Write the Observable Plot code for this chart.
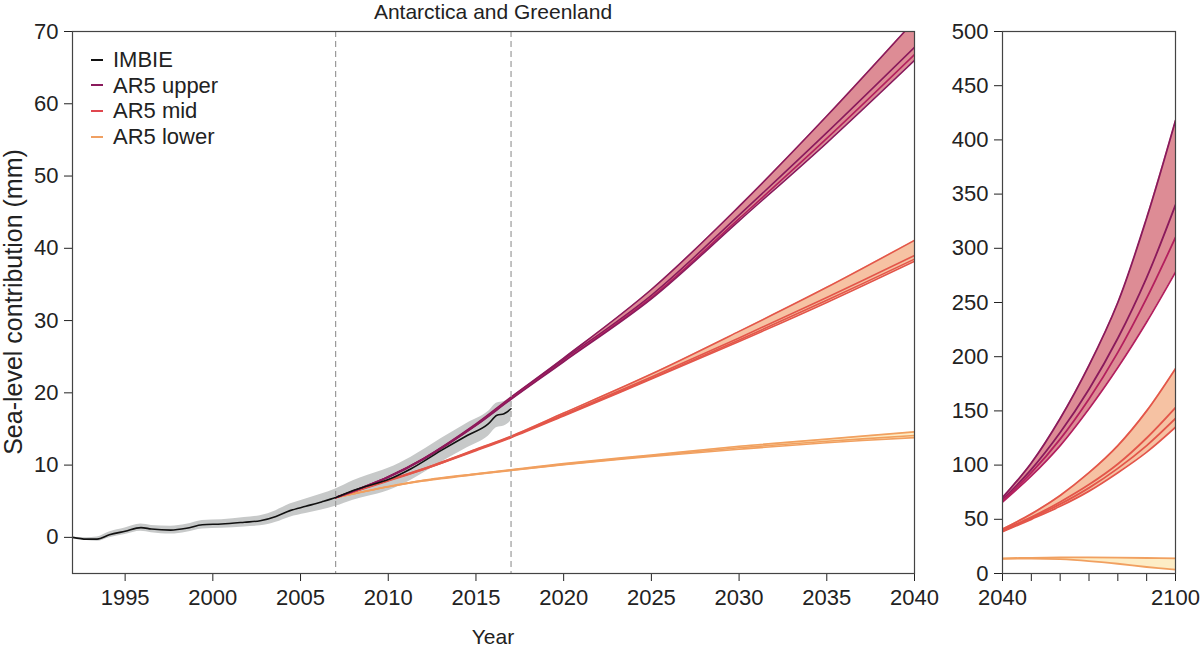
<!DOCTYPE html>
<html>
<head>
<meta charset="utf-8">
<script src="https://cdn.jsdelivr.net/npm/d3@7"></script>
<script src="https://cdn.jsdelivr.net/npm/@observablehq/plot@0.6"></script>
<style>
  html, body { margin: 0; padding: 0; background: #fff; }
  body { width: 1200px; height: 648px; position: relative; overflow: hidden; font-family: "Liberation Sans", Arial, sans-serif; color: #222; }
  .abs { position: absolute; }
  #title { left: 72px; width: 842px; top: 0px; text-align: center; font-size: 21px; line-height: 23px; }
  #xlabel { left: 72px; width: 842px; top: 625px; text-align: center; font-size: 21px; line-height: 23px; }
  #ylabel { left: 13px; top: 302px; transform: translate(-50%, -50%) rotate(-90deg); white-space: nowrap; font-size: 25px; line-height: 26px; }
  #legend { left: 91px; top: 47px; font-size: 22px; line-height: 25.6px; }
  #legend div { display: flex; align-items: center; height: 25.6px; }
  #legend span.sw { display: inline-block; width: 12px; height: 2px; margin-right: 10px; }
  svg { font-family: "Liberation Sans", Arial, sans-serif; }
</style>
</head>
<body>
<div id="main" class="abs" style="left:0;top:0"></div>
<div id="side" class="abs" style="left:940px;top:0"></div>
<div id="title" class="abs">Antarctica and Greenland</div>
<div id="xlabel" class="abs">Year</div>
<div id="ylabel" class="abs">Sea-level contribution (mm)</div>
<div id="legend" class="abs"></div>
<script>
// ---------- Data ----------
const imbieYears = [1992, 1992.8, 1993.4, 1994.1, 1995.0, 1995.9, 1996.5, 1997.6, 1998.5, 1999.4, 2000.5, 2001.8, 2002.7, 2003.6, 2004.4, 2005.3, 2006.2, 2007.0, 2008.0, 2008.8, 2010.0, 2011.3, 2013.0, 2014.5, 2015.7, 2016.2, 2016.6, 2017.0];
const imbieValues = [0, -0.25, -0.25, 0.35, 0.85, 1.35, 1.15, 1.0, 1.25, 1.75, 1.85, 2.1, 2.3, 2.9, 3.7, 4.3, 4.9, 5.5, 6.5, 7.1, 8.0, 9.5, 12.0, 14.1, 15.7, 16.9, 17.1, 17.8];
const imbieUncert = [0, 0.2, 0.3, 0.4, 0.45, 0.5, 0.5, 0.55, 0.55, 0.6, 0.6, 0.65, 0.7, 0.8, 0.9, 1.0, 1.1, 1.2, 1.35, 1.45, 1.55, 1.6, 1.65, 1.7, 1.7, 1.7, 1.7, 1.7];

// Main panel projections (2007–2040)
const projYears = [2007, 2010, 2012, 2015, 2017, 2020, 2025, 2030, 2035, 2040];
const upperMembers = [
  [5.5, 8.4, 10.9, 15.7, 19.4, 24.8, 34.3, 45.8, 58.3, 71.5],
  [5.5, 8.4, 10.9, 15.6, 19.3, 24.6, 33.5, 44.6, 56.0, 67.8],
  [5.5, 8.3, 10.8, 15.5, 19.2, 24.4, 33.2, 44.1, 55.2, 66.8],
  [5.5, 8.3, 10.8, 15.5, 19.1, 24.3, 33.0, 43.8, 54.6, 66.0]
];
const midMembers = [
  [5.5, 7.9, 9.5, 12.2, 14.0, 17.2, 22.6, 28.5, 34.6, 41.1],
  [5.5, 7.9, 9.5, 12.1, 13.9, 17.0, 22.2, 27.6, 33.2, 39.0],
  [5.5, 7.9, 9.4, 12.1, 13.9, 16.9, 22.0, 27.3, 32.8, 38.5],
  [5.5, 7.8, 9.4, 12.0, 13.8, 16.8, 21.9, 27.1, 32.5, 38.2]
];
const lowerMembers = [
  [5.5, 7.05, 7.9, 8.8, 9.35, 10.2, 11.4, 12.6, 13.6, 14.6],
  [5.5, 7.0, 7.85, 8.75, 9.3, 10.1, 11.3, 12.4, 13.3, 14.1],
  [5.5, 7.0, 7.8, 8.7, 9.25, 10.05, 11.2, 12.2, 13.1, 13.8]
];

// Side panel projections (2040–2100)
const sideYears = [2040, 2050, 2060, 2070, 2080, 2090, 2100];
const sideUpper = [
  [70, 102, 143, 192, 250, 328, 418],
  [68, 96, 130, 170, 217, 273, 340],
  [67, 93, 124, 161, 204, 254, 310],
  [66, 90, 118, 152, 190, 232, 278]
];
const sideMid = [
  [41, 55, 72, 93, 118, 150, 189],
  [40, 52, 66, 82, 101, 125, 153],
  [39, 51, 64, 79, 97, 118, 143],
  [38.5, 50, 62, 76, 93, 112, 135]
];
const sideLower = [
  [14, 14.5, 14.8, 14.8, 14.6, 14.3, 14],
  [13.5, 13.8, 13.2, 11.5, 9, 6, 3.5]
];

const mainXTicks = [1995, 2000, 2005, 2010, 2015, 2020, 2025, 2030, 2035, 2040];
const mainYTicks = [0, 10, 20, 30, 40, 50, 60, 70];
const sideXTicks = [2040, 2050, 2060, 2070, 2080, 2090, 2100];
const sideXLabels = [2040, 2100];
const sideYTicks = [0, 50, 100, 150, 200, 250, 300, 350, 400, 450, 500];
const periodMarks = [2007, 2017];

const legendNames = ["IMBIE", "AR5 upper", "AR5 mid", "AR5 lower"];
const legendColors = ["#111111", "#8a1a5c", "#e0474f", "#f0a062"];

// colours
const col = {
  upperLine: "#8a1a5c", upperLine2: "#b3205e", upperFill: "#dd8c95",
  midLine: "#e3564a", midFill: "#f6c2a3",
  lowerLine: "#f1a060", lowerFill: "#fdedc6",
  imbieFill: "#c7c9c9"
};

// ---------- Build tables ----------
const imbie = imbieYears.map((y, i) => ({year: y, v: imbieValues[i], lo: imbieValues[i] - imbieUncert[i], hi: imbieValues[i] + imbieUncert[i]}));

function band(years, members) {
  return years.map((y, i) => {
    const vals = members.map(m => m[i]);
    return {year: y, lo: d3.min(vals), hi: d3.max(vals)};
  });
}

function scenarioMarks(years, members, fill, strokeFn, sw) {
  return [
    Plot.areaY(band(years, members), {x: "year", y1: "lo", y2: "hi", fill: fill, curve: "catmull-rom"}),
    ...members.map((m, k) => Plot.line(years.map((y, i) => ({year: y, v: m[i]})), {x: "year", y: "v", stroke: strokeFn(k), strokeWidth: sw, curve: "catmull-rom"}))
  ];
}

const commonStyle = {fontSize: "22px", color: "#222", background: "transparent", overflow: "visible"};

function addClip(svg, x0, y0, w, h, id) {
  const ns = "http://www.w3.org/2000/svg";
  const defs = document.createElementNS(ns, "defs");
  const cp = document.createElementNS(ns, "clipPath");
  cp.setAttribute("id", id);
  const r = document.createElementNS(ns, "rect");
  r.setAttribute("x", x0); r.setAttribute("y", y0); r.setAttribute("width", w); r.setAttribute("height", h);
  cp.appendChild(r); defs.appendChild(cp); svg.insertBefore(defs, svg.firstChild);
  svg.querySelectorAll("g[aria-label='area'], g[aria-label='line']").forEach(g => g.setAttribute("clip-path", `url(#${id})`));
}

// ---------- Main panel ----------
const main = Plot.plot({
  width: 940, height: 648,
  marginLeft: 72, marginRight: 26, marginTop: 31, marginBottom: 75,
  style: commonStyle,
  x: {domain: [1992, 2040], ticks: mainXTicks, tickFormat: d => String(d), tickSize: 8, tickPadding: 8, label: null},
  y: {domain: [-5, 70], ticks: mainYTicks, tickSize: 8, tickPadding: 6, label: null},
  marks: [
    Plot.areaY(imbie, {x: "year", y1: "lo", y2: "hi", fill: col.imbieFill, curve: "monotone-x"}),
    ...scenarioMarks(projYears, lowerMembers, col.lowerFill, k => col.lowerLine, 1.6),
    ...scenarioMarks(projYears, midMembers, col.midFill, k => col.midLine, 1.6),
    ...scenarioMarks(projYears, upperMembers, col.upperFill, k => (k === 2 ? col.upperLine2 : col.upperLine), 1.6),
    Plot.line(imbie, {x: "year", y: "v", stroke: "#111", strokeWidth: 1.6, curve: "monotone-x"}),
    Plot.ruleX(periodMarks, {stroke: "#9a9a9a", strokeWidth: 1.2, strokeDasharray: "6,4"}),
    Plot.frame({stroke: "#444", strokeWidth: 1.2})
  ]
});
addClip(main, 72, 31, 842, 542, "clipMain");
document.getElementById("main").appendChild(main);

// ---------- Side panel ----------
const side = Plot.plot({
  width: 260, height: 648,
  marginLeft: 62, marginRight: 25, marginTop: 31, marginBottom: 75,
  style: commonStyle,
  x: {domain: [2040, 2100], ticks: sideXTicks, tickFormat: d => (sideXLabels.includes(d) ? String(d) : ""), tickSize: 8, tickPadding: 8, label: null},
  y: {domain: [0, 500], ticks: sideYTicks, tickSize: 8, tickPadding: 6, label: null},
  marks: [
    ...scenarioMarks(sideYears, sideLower, col.lowerFill, k => col.lowerLine, 1.8),
    ...scenarioMarks(sideYears, sideMid, col.midFill, k => col.midLine, 1.8),
    ...scenarioMarks(sideYears, sideUpper, col.upperFill, k => (k >= 2 ? col.upperLine2 : col.upperLine), 1.8),
    Plot.frame({stroke: "#444", strokeWidth: 1.2})
  ]
});
addClip(side, 62, 31, 173, 542, "clipSide");
document.getElementById("side").appendChild(side);

// ---------- Legend ----------
const lg = document.getElementById("legend");
legendNames.forEach((n, i) => {
  const d = document.createElement("div");
  d.innerHTML = `<span class="sw" style="background:${legendColors[i]}"></span><span>${n}</span>`;
  lg.appendChild(d);
});
</script>
</body>
</html>
